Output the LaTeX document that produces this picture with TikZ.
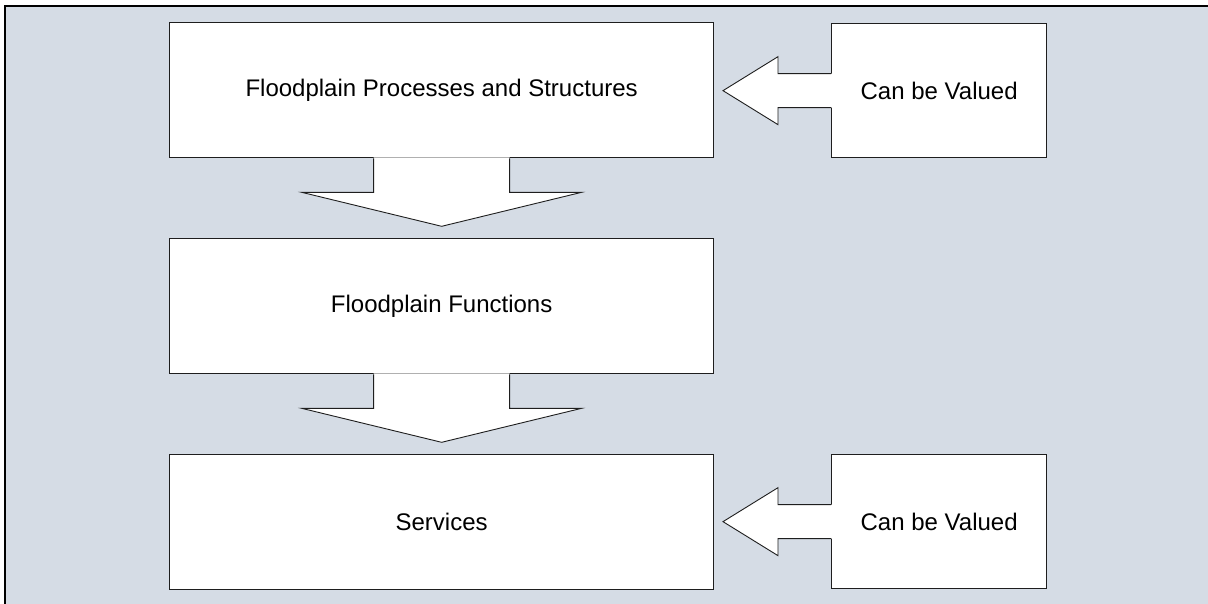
\documentclass[tikz,border=0pt]{standalone}
\usepackage{fontspec}
\setmainfont{Liberation Sans}
\definecolor{bgc}{RGB}{213,220,229}
\definecolor{edgec}{RGB}{30,30,30}
\begin{document}
\begin{tikzpicture}[x=1pt,y=-1pt,
  bigbox/.style={draw=edgec,line width=1.3pt,fill=white,minimum width=544pt,minimum height=135pt,inner sep=0pt,anchor=north west,font=\fontsize{24}{28}\selectfont},
  smallbox/.style={draw=edgec,line width=1.3pt,fill=white,minimum width=215pt,minimum height=134pt,inner sep=0pt,anchor=north west,font=\fontsize{24}{28}\selectfont},
  arrowline/.style={draw=edgec,line width=0.9pt,line join=miter}]
\useasboundingbox (0,0) rectangle (1208,603);
\clip (0,0) rectangle (1208,603);
\draw[line width=2pt,fill=bgc] (5,6) rectangle (1230,630);
\node[bigbox] (b1) at (169,22) {\raisebox{-1.5pt}{Floodplain Processes and Structures}};
\node[bigbox] (b2) at (169,238) {\raisebox{-1.5pt}{Floodplain Functions}};
\node[bigbox] (b3) at (169,454) {\raisebox{-1.5pt}{Services}};
\node[smallbox] (r1) at (831,23) {\raisebox{-1.5pt}{Can be Valued}};
\node[smallbox] (r3) at (831,454) {\raisebox{-1.5pt}{Can be Valued}};
% down arrows
\foreach \src in {b1,b2}{
  \begin{scope}[shift={(\src.south)}]
    \fill[white] (-68,-1) -- (-68,34) -- (-140,34) -- (0,68) -- (140,34) -- (68,34) -- (68,-1) -- cycle;
    \draw[arrowline] (-68,0) -- (-68,34) -- (-140,34) -- (0,68) -- (140,34) -- (68,34) -- (68,0);
  \end{scope}
}
% left arrows
\foreach \src in {r1,r3}{
  \begin{scope}[shift={(\src.west)}]
    \fill[white] (1,-17) -- (-53,-17) -- (-53,-34) -- (-108,0) -- (-53,34) -- (-53,17) -- (1,17) -- cycle;
    \draw[arrowline] (0,-17) -- (-53,-17) -- (-53,-34) -- (-108,0) -- (-53,34) -- (-53,17) -- (0,17);
  \end{scope}
}
\end{tikzpicture}
\end{document}
